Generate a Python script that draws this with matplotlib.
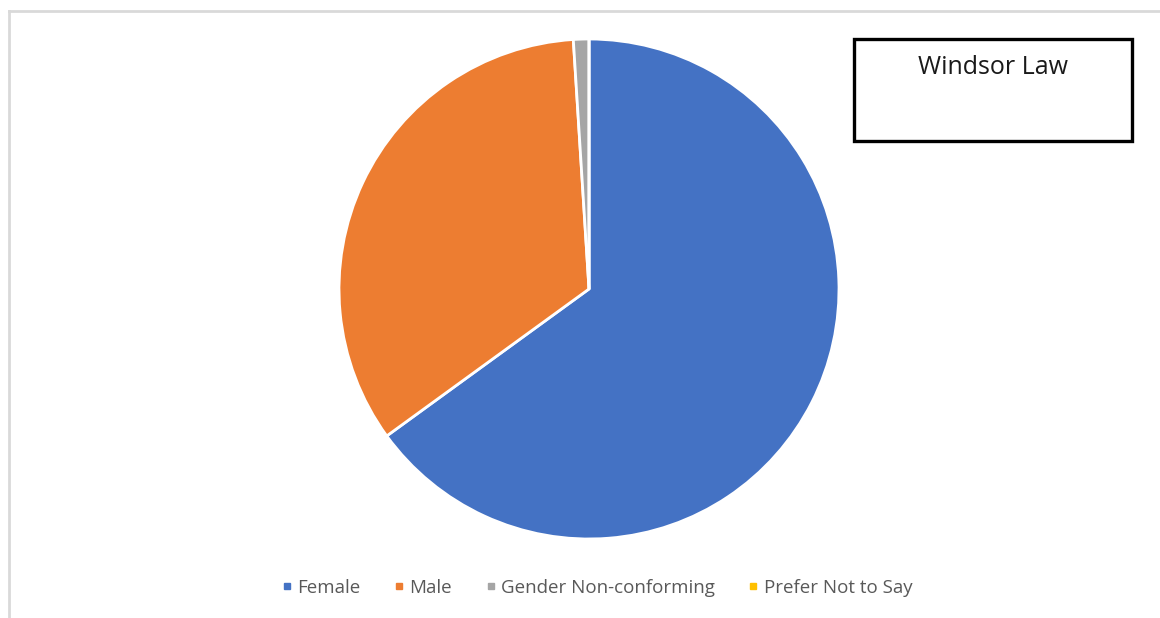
import matplotlib.pyplot as plt
from matplotlib.lines import Line2D
from matplotlib.patches import Rectangle

labels = ['Female', 'Male', 'Gender Non-conforming', 'Prefer Not to Say']
shares = [65, 34, 1, 0]
colors = ['#4472C4', '#ED7D31', '#A5A5A5', '#FFC000']

W, H = 1160, 618
fig = plt.figure(figsize=(W / 100, H / 100), dpi=100)
fig.patch.set_facecolor('white')

# light chart-area frame along top and left edges
fig.add_artist(Line2D([9 / W, 9 / W], [0, 1 - 11 / H], color='#D9D9D9', lw=2))
fig.add_artist(Line2D([9 / W, 1], [1 - 11 / H, 1 - 11 / H], color='#D9D9D9', lw=2))

cx, cy, r = 589, 289, 250
ax = fig.add_axes([(cx - r) / W, (H - cy - r) / H, 2 * r / W, 2 * r / H])
ax.pie(shares, colors=colors, startangle=90, counterclock=False,
       wedgeprops=dict(edgecolor='white', linewidth=2))
ax.set_xlim(-1.0, 1.0)
ax.set_ylim(-1.0, 1.0)
ax.set_aspect('equal')
ax.axis('off')

# title box in the top right corner
fig.add_artist(Rectangle((854 / W, 1 - 141 / H), 278 / W, 102 / H,
                         transform=fig.transFigure, fill=False,
                         edgecolor='black', linewidth=2.4))
fig.text(993 / W, 1 - 68 / H, 'Windsor Law', ha='center', va='center',
         fontsize=18, family='Open Sans', color='#1a1a1a')

handles = [Line2D([], [], marker='s', linestyle='none', markersize=5,
                  markerfacecolor=c, markeredgecolor=c) for c in colors]
leg = fig.legend(handles, labels, loc='center', ncol=4,
                 bbox_to_anchor=(595 / W, 1 - 588 / H), frameon=False,
                 prop={'family': 'Open Sans', 'size': 13.5},
                 handletextpad=0.05, columnspacing=1.55, handlelength=1.0)
for t in leg.get_texts():
    t.set_color('#595959')

fig.savefig('out.png', dpi=100, facecolor='white')
